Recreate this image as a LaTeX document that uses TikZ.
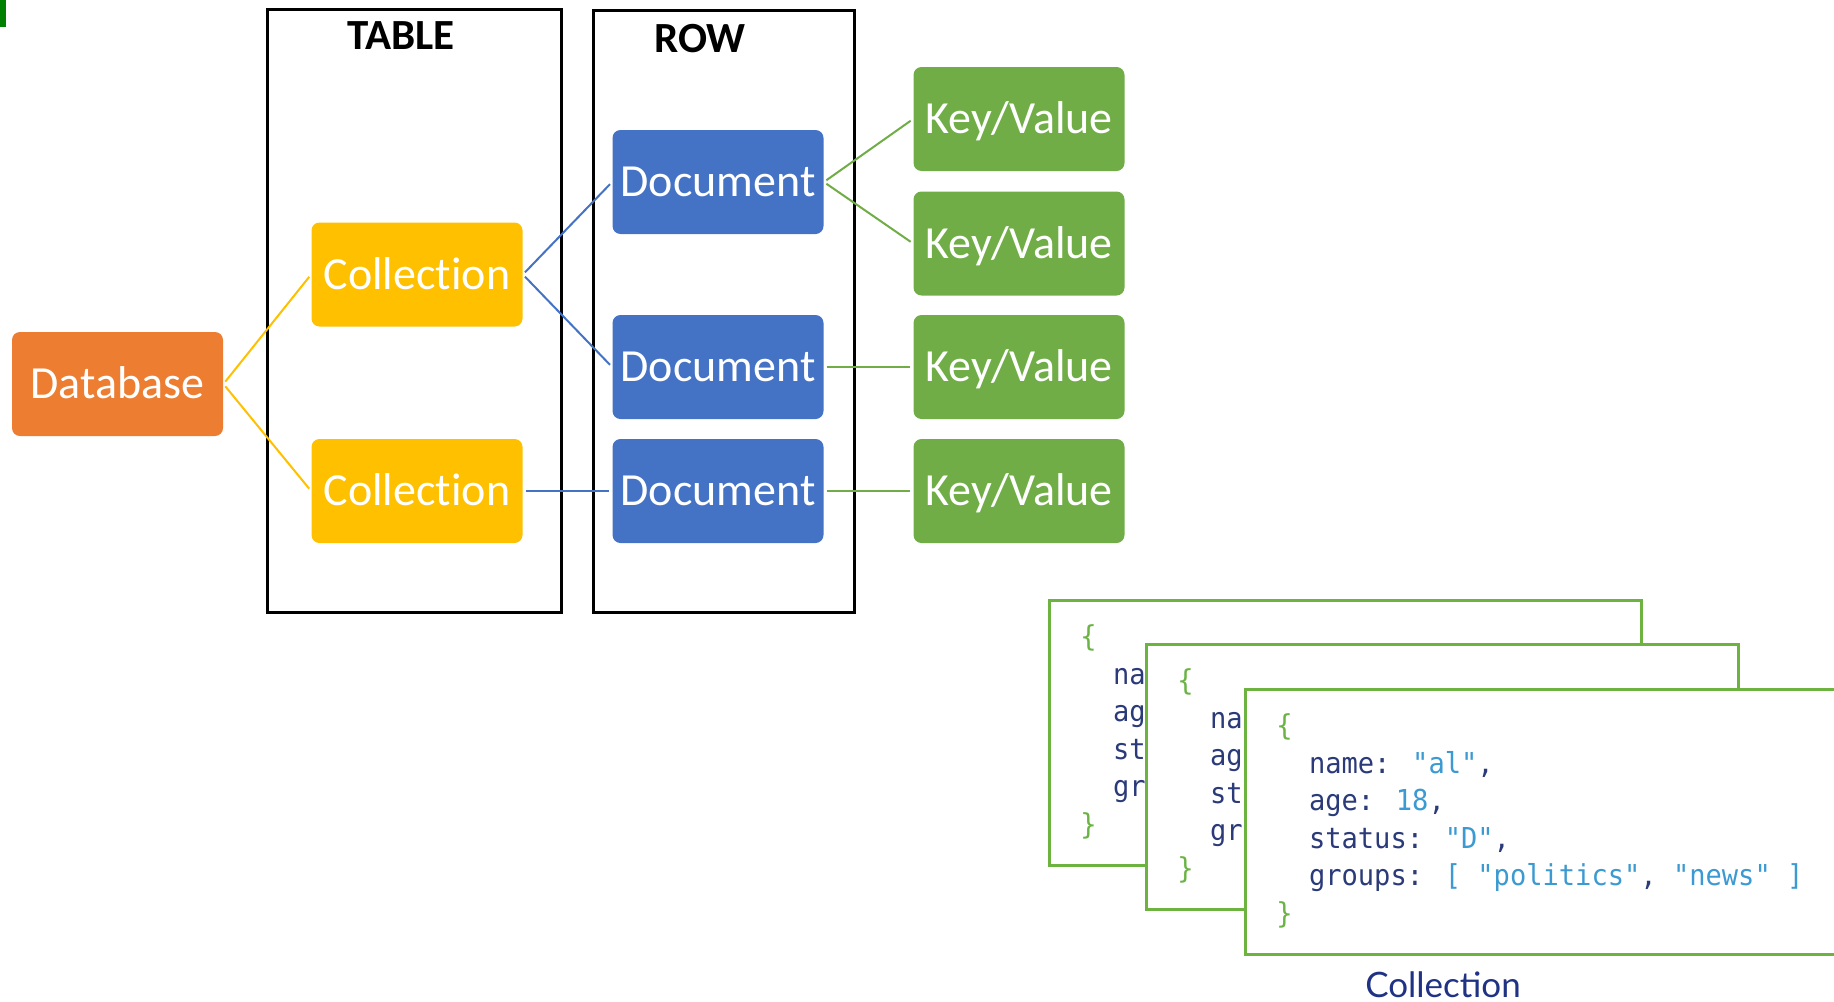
\documentclass[tikz,border=0pt]{standalone}
\usepackage{fontspec}
\usepackage{tikz}
\setmainfont[Ligatures=NoCommon]{Carlito}
\newfontfamily\codefont[FakeStretch=0.94]{DejaVu Sans Mono}
\newfontfamily\capfont{Lato}

\definecolor{dbcolor}{HTML}{ED7D31}
\definecolor{colcolor}{HTML}{FFC000}
\definecolor{doccolor}{HTML}{4472C4}
\definecolor{kvcolor}{HTML}{70AD47}
\definecolor{keycolor}{HTML}{2B3A78}
\definecolor{valcolor}{HTML}{3C9AD2}
\definecolor{bracecolor}{HTML}{6AB344}
\definecolor{cardcolor}{HTML}{6DB33F}
\definecolor{navy}{HTML}{1F3284}

\tikzset{
    boxitem/.style={fill=#1, rounded corners=4pt, minimum width=105.5pt, minimum height=52pt,
        inner sep=0pt, text=white, font=\fontsize{23}{23}\selectfont, text height=14.8pt, text depth=0pt},
    connector/.style={draw=#1, line width=1pt, shorten >=1.5pt, shorten <=1.5pt},
    bigframe/.style={draw=black, line width=1.5pt},
    jcard/.style={draw=cardcolor, fill=white, line width=1.5pt},
    codeline/.style={anchor=base west, inner sep=0pt, font=\codefont\fontsize{14.4}{14.4}\selectfont},
}

\newcommand{\jk}[1]{\textcolor{keycolor}{#1}}
\newcommand{\jv}[1]{\textcolor{valcolor}{#1}}
\newcommand{\jb}[1]{\textcolor{bracecolor}{#1}}

% card seen from behind: only the start of each key shows
\newcommand{\jsonback}[3]{%
    \draw[jcard] (#2,#3) rectangle ++(592,265);
    \foreach \txt [count=\k from 0] in {{\jb{\{}}, {\ \ \jk{na}}, {\ \ \jk{ag}}, {\ \ \jk{st}}, {\ \ \jk{gr}}, {\jb{\}}}}
        \node[codeline] (#1-\k) at (#2+31,#3+46.5+37.5*\k) {\txt};
}

\newcommand{\jsonfront}[3]{%
    \draw[jcard] (#2,#3) rectangle ++(592,265);
    \foreach \txt [count=\k from 0] in {%
        {\jb{\{}},
        {\ \ \jk{name:} \jv{"al"}\jk{,}},
        {\ \ \jk{age:} \jv{18}\jk{,}},
        {\ \ \jk{status:} \jv{"D"}\jk{,}},
        {\ \ \jk{groups:} \jv{[} \jv{"politics"}\jk{,} \jv{"news"} \jv{]}},
        {\jb{\}}}}
        \node[codeline] (#1-\k) at (#2+31,#3+46.5+37.5*\k) {\txt};
}

\begin{document}
\begin{tikzpicture}[x=0.5pt, y=-0.5pt]
                \useasboundingbox (0,0) rectangle (1834,1001);

                \fill[green!50!black] (0,0) rectangle (6,27);

                \draw[bigframe] (267,9) rectangle (561,612);
                \draw[bigframe] (593,10.5) rectangle (854,612);
                \node[anchor=base, font=\bfseries\fontsize{21.5}{21.5}\selectfont] (tabletitle) at (401,49) {TABLE};
                \node[anchor=base, font=\bfseries\fontsize{21.5}{21.5}\selectfont] (rowtitle) at (700,52) {ROW};

                \node[boxitem=dbcolor] (db) at (117.5,384) {Database};
                \node[boxitem=colcolor] (col1) at (417,274.5) {Collection};
                \node[boxitem=colcolor] (col2) at (417,491) {Collection};
                \node[boxitem=doccolor] (doc1) at (718,182) {Document};
                \node[boxitem=doccolor] (doc2) at (718,367) {Document};
                \node[boxitem=doccolor] (doc3) at (718,491) {Document};
                \node[boxitem=kvcolor] (kv1) at (1019,119) {Key/Value};
                \node[boxitem=kvcolor] (kv2) at (1019,243.5) {Key/Value};
                \node[boxitem=kvcolor] (kv3) at (1019,367) {Key/Value};
                \node[boxitem=kvcolor] (kv4) at (1019,491) {Key/Value};

                \draw[connector=colcolor] (db.east) -- (col1.west);
                \draw[connector=colcolor] (db.east) -- (col2.west);
                \draw[connector=doccolor] (col1.east) -- (doc1.west);
                \draw[connector=doccolor] (col1.east) -- (doc2.west);
                \draw[connector=doccolor] (col2.east) -- (doc3.west);
                \draw[connector=kvcolor] (doc1.east) -- (kv1.west);
                \draw[connector=kvcolor] (doc1.east) -- (kv2.west);
                \draw[connector=kvcolor] (doc2.east) -- (kv3.west);
                \draw[connector=kvcolor] (doc3.east) -- (kv4.west);

                \jsonback{card1}{1049}{600}
                \jsonback{card2}{1146}{644}
                \jsonfront{card3}{1245}{689}

                \node[anchor=base, text=navy, font=\capfont\fontsize{17.5}{17.5}\selectfont] (caption) at (1443,997) {Collection};
            \end{tikzpicture}
\end{document}
